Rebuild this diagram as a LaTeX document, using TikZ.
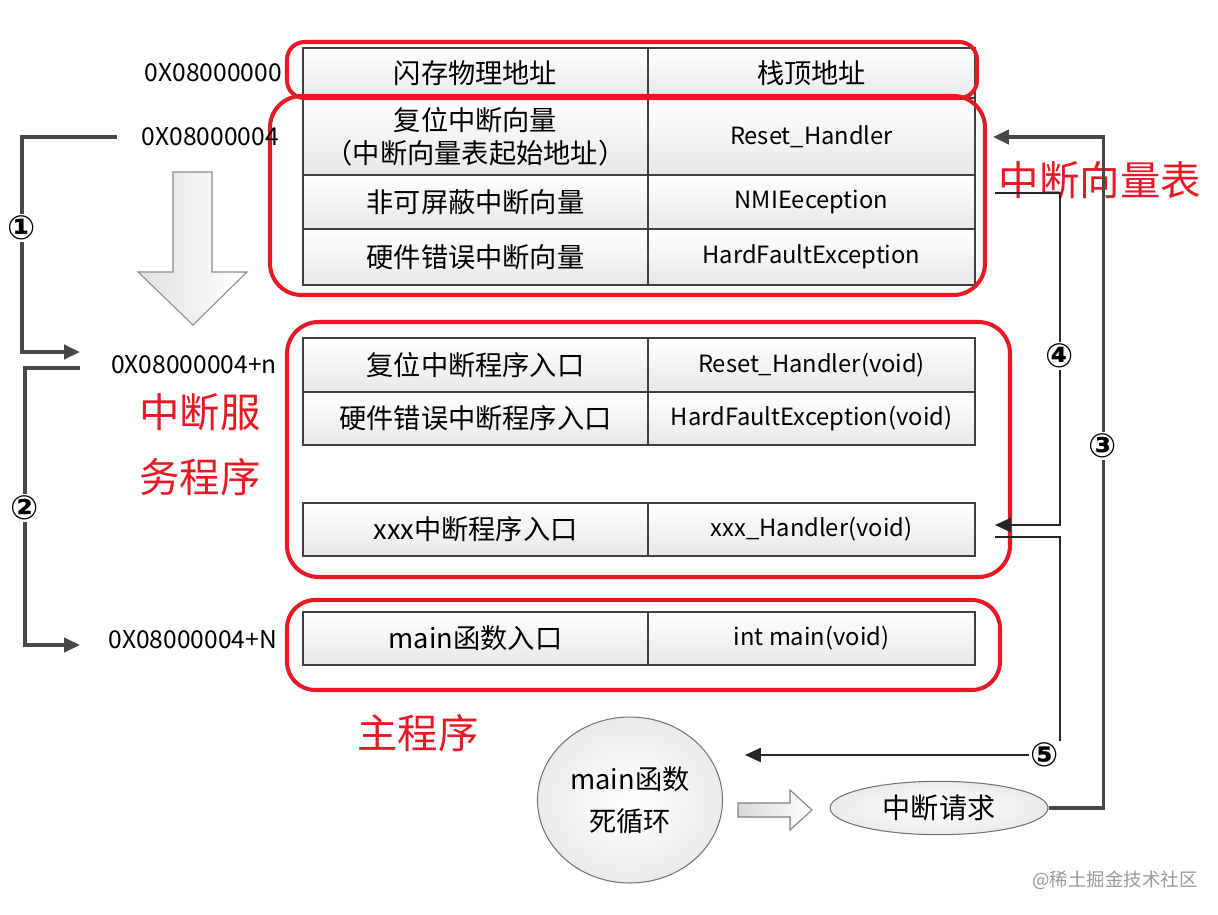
\documentclass[tikz,border=0pt]{standalone}
\usepackage{fontspec}
\setmainfont{Noto Sans CJK SC}
\newfontfamily\circfont{DejaVu Sans}
\usetikzlibrary{arrows.meta, shapes.geometric}

\definecolor{boxred}{RGB}{232,24,36}
\definecolor{linegray}{RGB}{72,72,72}

\tikzset{
    cell/.style={draw=black!75, line width=0.8pt, inner sep=0pt, outer sep=0pt,
        top color=white, bottom color=black!9, align=center},
    lcell/.style={cell, minimum width=6.9cm, font=\fontsize{15.5}{19}\selectfont},
    rcell/.style={cell, minimum width=6.54cm, font=\fontsize{13.5}{16}\selectfont},
    addr/.style={anchor=east, font=\fontsize{14}{16}\selectfont},
    redbox/.style={draw=boxred, line width=2.3pt},
    redtext/.style={text=boxred, font=\fontsize{23}{37}\selectfont, align=center},
    conn/.style={draw=linegray, line width=2pt, -{Triangle[length=9pt,width=8pt]}},
    thinconn/.style={draw=black!85, line width=1.1pt, -{Triangle[length=9pt,width=8pt]}},
    num/.style={fill=white, inner sep=1pt, font=\circfont\bfseries\fontsize{19}{20}\selectfont}
}

\begin{document}
\begin{tikzpicture}[x=0.02cm, y=-0.02cm]
    \useasboundingbox (0,0) rectangle (1218,914);

    % Vector table rows
    \node[lcell, minimum height=1.0cm] (flashL) at (475.5,73) {闪存物理地址};
    \node[rcell, minimum height=1.0cm, font=\fontsize{15.5}{20}\selectfont] (flashR) at (811.5,73) {栈顶地址};
    \node[lcell, minimum height=1.54cm] (resetL) at (475.5,136.5) {复位中断向量\\（中断向量表起始地址）};
    \node[rcell, minimum height=1.54cm] (resetR) at (811.5,136.5) {Reset\_Handler};
    \node[lcell, minimum height=1.08cm] (nmiL) at (475.5,202) {非可屏蔽中断向量};
    \node[rcell, minimum height=1.08cm] (nmiR) at (811.5,202) {NMIEeception};
    \node[lcell, minimum height=1.12cm] (hardL) at (475.5,257) {硬件错误中断向量};
    \node[rcell, minimum height=1.12cm] (hardR) at (811.5,257) {HardFaultException};

    % Service routine rows
    \node[lcell, minimum height=1.08cm] (isrL) at (475.5,365) {复位中断程序入口};
    \node[rcell, minimum height=1.08cm] (isrR) at (811.5,365) {Reset\_Handler(void)};
    \node[lcell, minimum height=1.06cm] (hfL) at (475.5,418.5) {硬件错误中断程序入口};
    \node[rcell, minimum height=1.06cm] (hfR) at (811.5,418.5) {HardFaultException(void)};
    \node[lcell, minimum height=1.06cm] (xxxL) at (475.5,529.5) {xxx中断程序入口};
    \node[rcell, minimum height=1.06cm] (xxxR) at (811.5,529.5) {xxx\_Handler(void)};

    % Main program row
    \node[lcell, minimum height=1.06cm] (mainL) at (475.5,638.5) {main函数入口};
    \node[rcell, minimum height=1.06cm] (mainR) at (811.5,638.5) {int main(void)};

    % Red frames
    \draw[redbox, rounded corners=10pt] (287,42) rectangle (977,98);
    \draw[redbox, rounded corners=18pt] (270,96) rectangle (985,295);
    \draw[redbox, rounded corners=18pt] (287,322) rectangle (1010,577);
    \draw[redbox, rounded corners=16pt] (287,600) rectangle (1000,690);

    % Addresses
    \node[addr] (a0) at (288,73) {0X08000000};
    \node[addr] (a1) at (285,137) {0X08000004};
    \node[addr] (an) at (283,365) {0X08000004+n};
    \node[addr] (aN) at (283,640) {0X08000004+N};

    % Red captions
    \node[redtext] (capTable) at (1100,180) {中断向量表};
    \node[redtext] (capIsr) at (200,445) {中断服\\务程序};
    \node[redtext] (capMain) at (418,733) {主程序};

    % Big down arrow
    \draw[black!45, line width=0.6pt, left color=black!12, right color=white]
        (173,172) -- (212,172) -- (212,272) -- (247,272) -- (193,325)
        -- (138,272) -- (173,272) -- cycle;

    % Main loop and interrupt request
    \node[ellipse, draw=black!55, line width=0.6pt, inner color=white, outer color=black!8,
        minimum width=3.6cm, minimum height=3.32cm, align=center,
        font=\fontsize{15.5}{24}\selectfont] (loop) at (630,800) {main函数\\死循环};
    \node[ellipse, draw=black!55, line width=0.6pt, inner color=white, outer color=black!8,
        minimum width=4.36cm, minimum height=0.96cm,
        font=\fontsize{16}{20}\selectfont] (req) at (939,808) {中断请求};
    \draw[black!50, line width=0.6pt, left color=black!15, right color=white]
        (738,803) -- (790,803) -- (790,790) -- (812,810) -- (790,830)
        -- (790,817) -- (738,817) -- cycle;

    % Connector end points
    \coordinate (s1) at (117,137);
    \coordinate (t1) at (80,352);
    \coordinate (s2) at (80,368);
    \coordinate (t2) at (80,645);
    \coordinate (t3) at (993,137);
    \coordinate (s4) at (995,193);
    \coordinate (t4) at (995,525);
    \coordinate (s5) at (995,537);
    \coordinate (t5) at (745,755);

    % Flow connectors
    \draw[conn] (s1) -- ++(-95,0) |- (t1);
    \draw[conn] (s2) -- ++(-55,0) |- (t2);
    \draw[conn] (req.east) -- ++(55,0) |- (t3);
    \draw[thinconn] (s4) -- ++(65,0) |- (t4);
    \draw[thinconn] (s5) -- ++(65,0) |- (t5);

    % Step numbers
    \node[num] (n1) at (22,228) {①};
    \node[num] (n2) at (25,508) {②};
    \node[num] (n3) at (1103,446) {③};
    \node[num] (n4) at (1060,356) {④};
    \node[num] (n5) at (1045,755) {⑤};

    % Watermark
    \node[text=black!40, font=\fontsize{10.5}{12}\selectfont] (mark) at (1115,880) {@稀土掘金技术社区};
\end{tikzpicture}
\end{document}
